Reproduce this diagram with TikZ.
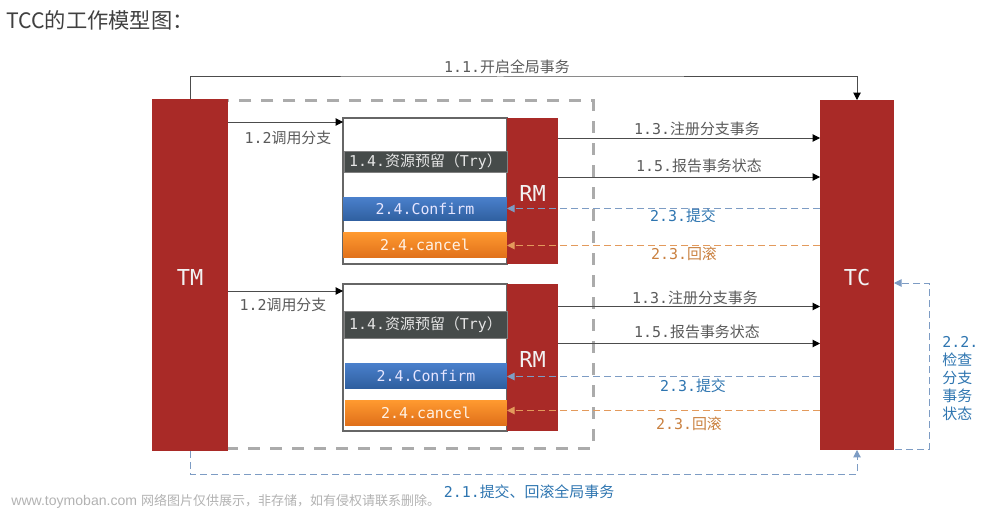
\documentclass[tikz,border=0pt]{standalone}
\usepackage{fontspec}
\setmainfont{DejaVu Sans Mono}
\newfontfamily\cjk{Noto Sans CJK SC}
\newfontfamily\sans{Liberation Sans}
\usetikzlibrary{arrows.meta}
\definecolor{barred}{HTML}{A92A27}
\definecolor{txtgray}{HTML}{5A5A5A}
\definecolor{txtblue}{HTML}{2E75B0}
\definecolor{txtorange}{HTML}{C9803F}
\definecolor{lineblue}{HTML}{7D9CC4}
\definecolor{lineorange}{HTML}{E39A5C}
\definecolor{tryfill}{HTML}{464B4A}
\definecolor{confup}{HTML}{4A80CC}
\definecolor{confdown}{HTML}{2F5F9F}
\definecolor{cancup}{HTML}{FF9A30}
\definecolor{cancdown}{HTML}{E0701A}
\newcommand{\lbl}[2]{#1{\cjk #2}}
\tikzset{
	bar/.style={fill=barred, draw=none, inner sep=0, outer sep=0, text=white!95!black, text height=11.4pt, text depth=0pt, font=\fontsize{12.5}{14}\selectfont},
	frame/.style={draw=black!60, line width=0.25mm, fill=white, inner sep=0, outer sep=0},
	try/.style={fill=tryfill, draw=black!50, line width=0.15mm, inner sep=0, outer sep=0, minimum width=3.26cm, text=white!90!black, font=\fontsize{8.5}{10}\selectfont},
	confirm/.style={top color=confup, bottom color=confdown, draw=none, inner sep=0, outer sep=0, minimum width=3.28cm, text=white!90!blue, font=\fontsize{8.5}{10}\selectfont},
	cancel/.style={top color=cancup, bottom color=cancdown, draw=none, inner sep=0, outer sep=0, minimum width=3.28cm, text=white!90!orange, font=\fontsize{8.5}{10}\selectfont},
	tag/.style={inner sep=0, text=txtgray, font=\fontsize{8.5}{10}\selectfont},
	flow/.style={draw=black!70, line width=0.2mm, -{Triangle[length=1.5mm,width=1.5mm,color=black]}},
	back/.style={line width=0.2mm, dash pattern=on 1.4mm off 0.8mm, -{Triangle[length=1.5mm,width=1.5mm]}},
}
\begin{document}
\begin{tikzpicture}[x=0.02cm, y=-0.02cm]
		%%%%% START %%%%%
		\useasboundingbox (0, 0) rectangle (1000, 510);
		
		\node[anchor=west, inner sep=0, text=black!75, font=\fontsize{12.1}{14}\selectfont] (title) at (6, 20) {\cjk TCC的工作模型图：};
		
		\coordinate (dashcorner) at (593, 448);
		\draw[line width=0.6mm, color=black!33, dash pattern=on 2.4mm off 2mm] (200, 100.5) rectangle (dashcorner);
		
		\node[bar, minimum width=1.52cm, minimum height=7.06cm] (tm) at (190, 275) {TM};
		\node[bar, minimum width=1.48cm, minimum height=7cm] (tc) at (857, 275) {TC};
		
		% upper branch
		\node[frame, minimum width=3.28cm, minimum height=2.92cm] (boxA) at (425, 191) {};
		\node[bar, minimum width=1.02cm, minimum height=2.92cm] (rmA) at (532.5, 191) {RM};
		\node[try, minimum height=0.42cm] (tryA) at (425.5, 161.5) {\lbl{1.4.}{资源预留（}Try\cjk{）}};
		\node[confirm, minimum height=0.48cm] (confA) at (425, 209) {2.4.Confirm};
		\node[cancel, minimum height=0.52cm] (cancA) at (425, 245) {2.4.cancel};
		
		% lower branch
		\node[frame, minimum width=3.28cm, minimum height=2.94cm] (boxB) at (425, 357.5) {};
		\node[bar, minimum width=1.02cm, minimum height=2.94cm] (rmB) at (532.5, 357.5) {RM};
		\node[try, minimum height=0.54cm] (tryB) at (425.5, 324.5) {\lbl{1.4.}{资源预留（}Try\cjk{）}};
		\node[confirm, minimum width=3.24cm, minimum height=0.5cm] (confB) at (426, 375.5) {2.4.Confirm};
		\node[cancel, minimum width=3.24cm, minimum height=0.5cm] (cancB) at (426, 412.5) {2.4.cancel};
		
		\coordinate (callA) at (300, 122);
		\coordinate (callB) at (300, 291);
		\coordinate (regA) at (700, 138);
		\coordinate (repA) at (700, 177);
		\coordinate (comA) at (700, 208.5);
		\coordinate (rolA) at (700, 245.5);
		\coordinate (regB) at (700, 306.5);
		\coordinate (repB) at (700, 343.5);
		\coordinate (comB) at (700, 376.5);
		\coordinate (rolB) at (700, 410.5);
		\coordinate (open) at (500, 77);
		\coordinate (close) at (500, 474);
		\coordinate (checkL) at (929, 449);
		\coordinate (checkU) at (929, 283);
		\coordinate (checkS) at (895, 449);
		
		\draw[flow] (tm.north) |- (open) -| (tc.north);
		\draw[flow] (tm.east |- callA) -- (boxA.west |- callA);
		\draw[flow] (tm.east |- callB) -- (boxB.west |- callB);
		\draw[flow] (rmA.east |- regA) -- (tc.west |- regA);
		\draw[flow] (rmA.east |- repA) -- (tc.west |- repA);
		\draw[flow] (rmB.east |- regB) -- (tc.west |- regB);
		\draw[flow] (rmB.east |- repB) -- (tc.west |- repB);
		
		\draw[back, color=lineblue] (tc.west |- comA) -- (rmA.west |- comA);
		\draw[back, color=lineorange] (tc.west |- rolA) -- (rmA.west |- rolA);
		\draw[back, color=lineblue] (tc.west |- comB) -- (rmB.west |- comB);
		\draw[back, color=lineorange] (tc.west |- rolB) -- (rmB.west |- rolB);
		
		\draw[back, color=lineblue] (tm.south) |- (close) -| (tc.south);
		\draw[back, color=lineblue] (checkS) -- (checkL) -- (checkU) -- (tc.east |- checkU);
		
		\node[tag] (l11) at (507, 67) {\lbl{1.1.}{开启全局事务}};
		\node[tag] (l12a) at (288, 138) {\lbl{1.2}{调用分支}};
		\node[tag] (l12b) at (283, 305) {\lbl{1.2}{调用分支}};
		\node[tag] (l13a) at (697, 129) {\lbl{1.3.}{注册分支事务}};
		\node[tag] (l15a) at (699, 166) {\lbl{1.5.}{报告事务状态}};
		\node[tag] (l13b) at (695, 298) {\lbl{1.3.}{注册分支事务}};
		\node[tag] (l15b) at (697, 332) {\lbl{1.5.}{报告事务状态}};
		
		\node[tag, text=txtblue] (l23a) at (683, 216) {\lbl{2.3.}{提交}};
		\node[tag, text=txtorange] (l24a) at (684, 254) {\lbl{2.3.}{回滚}};
		\node[tag, text=txtblue] (l23b) at (693, 386) {\lbl{2.3.}{提交}};
		\node[tag, text=txtorange] (l24b) at (689, 424) {\lbl{2.3.}{回滚}};
		\node[tag, text=txtblue] (l21) at (529, 492) {\lbl{2.1.}{提交、回滚全局事务}};
		\node[tag, text=txtblue, align=left, anchor=north west, font=\fontsize{8.5}{10.3}\selectfont] (l22) at (942, 336) {2.2.\\{\cjk 检查}\\{\cjk 分支}\\{\cjk 事务}\\{\cjk 状态}};
		
		\node[anchor=west, inner sep=0, text=black!30, font=\fontsize{8}{10}\selectfont] (mark) at (11, 501) {\sans www.toymoban.com {\fontsize{7.4}{10}\selectfont\cjk 网络图片仅供展示，非存储，如有侵权请联系删除。}};
		
		%%%%% END %%%%%
	\end{tikzpicture}
\end{document}
